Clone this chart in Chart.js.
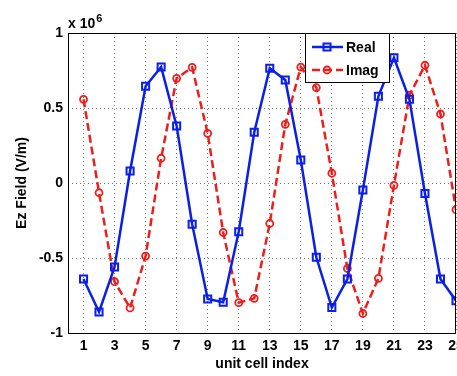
<!DOCTYPE html>
<html>
<head>
<meta charset="utf-8">
<script src="https://cdn.jsdelivr.net/npm/chart.js@4"></script>
<style>
  html, body { margin: 0; padding: 0; background: #fff; overflow: hidden; }
  #wrap { width: 472px; height: 376px; }
</style>
</head>
<body>
<div id="wrap"><canvas id="chart"></canvas></div>
<script>
// unit cell index 1..25
const cells = [1,2,3,4,5,6,7,8,9,10,11,12,13,14,15,16,17,18,19,20,21,22,23,24,25]
// Ez field, units of 1e6 V/m
const realPart = [-0.64,-0.86,-0.56,0.08,0.645,0.773,0.38,-0.275,-0.773,-0.795,-0.325,0.338,0.765,0.687,0.153,-0.495,-0.83,-0.64,-0.047,0.578,0.835,0.558,-0.07,-0.64,-0.785]
const imagPart = [0.558,-0.065,-0.658,-0.833,-0.487,0.165,0.698,0.771,0.331,-0.33,-0.798,-0.769,-0.27,0.391,0.773,0.636,0.065,-0.57,-0.87,-0.636,-0.016,0.585,0.785,0.46,-0.178]
const xTicks = [1,3,5,7,9,11,13,15,17,19,21,23,25]
const yTicks = [-1,-0.5,0,0.5,1]

const blue = '#0b1fe6'
const red = '#ee1d1d'
const font = 'Liberation Sans, Arial, sans-serif'

const framePlugin = {
  id: 'frame',
  afterDraw(chart) {
    const { ctx, chartArea: a } = chart
    ctx.save()
    ctx.strokeStyle = '#000'
    ctx.lineWidth = 1
    ctx.strokeRect(a.left + 0.5, a.top + 0.5, a.right - a.left - 1, a.bottom - a.top)

    // multiplier
    ctx.fillStyle = '#000'
    ctx.textBaseline = 'alphabetic'
    ctx.font = 'bold 14px ' + font
    ctx.fillText('x 10', a.left, 28)
    const w = ctx.measureText('x 10').width
    ctx.font = 'bold 11px ' + font
    ctx.fillText('6', a.left + w + 1, 22)

    // legend
    const lx = 305, ly = 33, lw = 84, lh = 49
    ctx.fillStyle = '#fff'
    ctx.fillRect(lx, ly, lw, lh)
    ctx.strokeStyle = '#000'
    ctx.strokeRect(lx + 0.5, ly + 0.5, lw, lh)
    const rows = [
      { label: 'Real', ds: chart.data.datasets[0], y: 47 },
      { label: 'Imag', ds: chart.data.datasets[1], y: 70 }
    ]
    rows.forEach(r => {
      ctx.strokeStyle = r.ds.borderColor
      ctx.lineWidth = 2.5
      ctx.setLineDash(r.ds.borderDash || [])
      ctx.beginPath()
      ctx.moveTo(312, r.y)
      ctx.lineTo(343, r.y)
      ctx.stroke()
      ctx.setLineDash([])
      ctx.fillStyle = 'rgba(0,0,0,0)'
      ctx.lineWidth = r.ds.pointBorderWidth
      Chart.helpers.drawPoint(ctx, {
        pointStyle: r.ds.pointStyle,
        radius: r.ds.pointRadius,
        borderWidth: r.ds.pointBorderWidth
      }, 327, r.y)
      ctx.fillStyle = '#000'
      ctx.font = 'bold 14px ' + font
      ctx.textBaseline = 'middle'
      ctx.fillText(r.label, 346, r.y + 1)
    })
    ctx.restore()
  }
}

new Chart(document.getElementById('chart'), {
  type: 'line',
  data: {
    labels: cells,
    datasets: [
      {
        label: 'Real',
        data: cells.map((c, i) => ({ x: c, y: realPart[i] })),
        borderColor: blue,
        borderWidth: 2.5,
        pointStyle: 'rect',
        pointRadius: 5,
        pointBorderWidth: 2,
        pointBorderColor: blue,
        pointBackgroundColor: 'rgba(0,0,0,0)',
        tension: 0
      },
      {
        label: 'Imag',
        data: cells.map((c, i) => ({ x: c, y: imagPart[i] })),
        borderColor: red,
        borderWidth: 2.5,
        borderDash: [8, 4],
        pointStyle: 'circle',
        pointRadius: 3.5,
        pointBorderWidth: 1.8,
        pointBorderColor: red,
        pointBackgroundColor: 'rgba(0,0,0,0)',
        tension: 0
      }
    ]
  },
  options: {
    responsive: true,
    maintainAspectRatio: false,
    animation: false,
    events: [],
    layout: { padding: { top: 33, right: 16, left: 0, bottom: 0 } },
    plugins: {
      legend: { display: false },
      tooltip: { enabled: false }
    },
    scales: {
      x: {
        type: 'linear',
        min: 0,
        max: 25,
        afterBuildTicks: s => { s.ticks = xTicks.map(v => ({ value: v })) },
        afterFit: s => { s.height = 43; s.paddingLeft = 0; s.paddingRight = 0 },
        ticks: { color: '#000', padding: 5, font: { family: font, size: 14, weight: 'bold' }, maxRotation: 0, autoSkip: false },
        grid: { color: '#777', lineWidth: 1, drawTicks: false },
        border: { display: false, dash: [1, 3] },
        title: { display: true, text: 'unit cell index', color: '#000', padding: { top: 0, bottom: 3 }, font: { family: font, size: 14, weight: 'bold' } }
      },
      y: {
        min: -1,
        max: 1,
        afterBuildTicks: s => { s.ticks = yTicks.map(v => ({ value: v })) },
        afterFit: s => { s.width = 68 },
        ticks: { color: '#000', padding: 5, font: { family: font, size: 14, weight: 'bold' }, callback: v => String(v) },
        grid: { color: '#777', lineWidth: 1, drawTicks: false },
        border: { display: false, dash: [1, 3] },
        title: { display: true, text: 'Ez Field (V/m)', color: '#000', padding: { top: 14, bottom: 0 }, font: { family: font, size: 14, weight: 'bold' } }
      }
    }
  },
  plugins: [framePlugin]
})
</script>
</body>
</html>
